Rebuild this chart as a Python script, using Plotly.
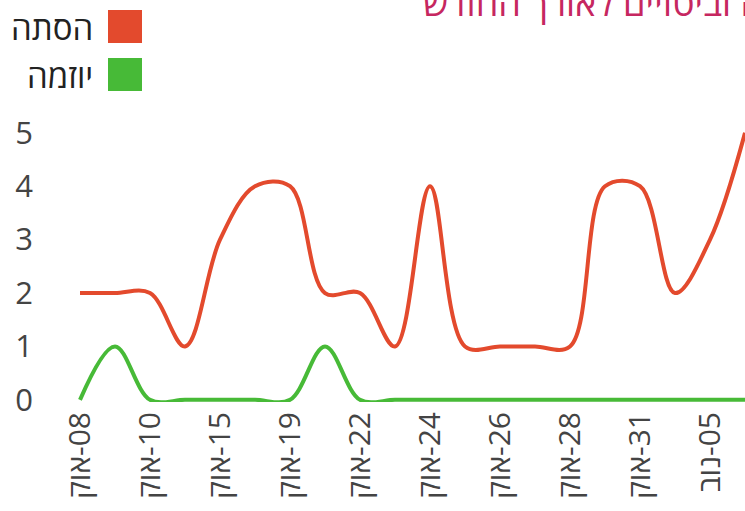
import plotly.graph_objects as go

# ---- data ----
categories = ["08-אוק", "09-אוק", "10-אוק", "12-אוק", "15-אוק", "17-אוק", "19-אוק",
              "21-אוק", "22-אוק", "23-אוק", "24-אוק", "25-אוק", "26-אוק", "27-אוק",
              "28-אוק", "29-אוק", "31-אוק", "02-נוב", "05-נוב", "07-נוב"]
incitement = [2, 2, 2, 1, 3, 4, 4, 2, 2, 1, 4, 1, 1, 1, 1, 4, 4, 2, 3, 5]
initiative = [0, 1, 0, 0, 0, 0, 0, 1, 0, 0, 0, 0, 0, 0, 0, 0, 0, 0, 0, 0]
series_names = ["הסתה", "יוזמה"]
series_colors = ["#E34A2D", "#47BA37"]
title_text = "התפלגות הסתה וביטויים לאורך החודש"
y_ticks = [0, 1, 2, 3, 4, 5]

W, H = 745, 511
ML, MR, MT, MB = 40, 0, 120, 109
FONT = "Open Sans, DejaVu Sans, sans-serif"

fig = go.Figure()
for name, vals, col in zip(series_names, [incitement, initiative], series_colors):
    fig.add_trace(go.Scatter(
        x=list(range(len(categories))), y=vals, name=name, mode="lines",
        line=dict(color=col, width=4, shape="spline", smoothing=1),
        showlegend=False, hoverinfo="skip"))

# pixel -> paper helpers (for legend/title placement only)
pw = W - ML - MR
ph = H - MT - MB
def px_x(p):
    return (p - ML) / pw
def px_y(p):
    return (H - MB - p) / ph

shapes = []
annotations = []
legend_rows = [(10, 43), (58, 91)]
for (y0, y1), name, col in zip(legend_rows, series_names, series_colors):
    shapes.append(dict(type="rect", xref="paper", yref="paper",
                       x0=px_x(108), x1=px_x(142), y0=px_y(y1), y1=px_y(y0),
                       fillcolor=col, line=dict(width=0)))
    annotations.append(dict(text=name, xref="paper", yref="paper",
                            x=px_x(95), y=px_y((y0 + y1) / 2 + 1),
                            xanchor="right", yanchor="middle", showarrow=False,
                            font=dict(size=33, color="#222", family=FONT)))

tickvals = list(range(0, len(categories), 2))
ticktext = ["\u200F" + categories[i] for i in tickvals]

fig.update_layout(
    width=W, height=H,
    margin=dict(l=ML, r=MR, t=MT, b=MB, pad=0),
    paper_bgcolor="white", plot_bgcolor="white",
    font=dict(family=FONT, size=30, color="#444"),
    title=dict(text=title_text, x=423 / W, xanchor="left", xref="container",
               y=1 - 16 / H, yanchor="bottom", yref="container",
               font=dict(size=36, color="#C62760", family=FONT)),
    xaxis=dict(range=[-40 / 35, len(categories) - 1], tickmode="array",
               tickvals=tickvals, ticktext=ticktext, tickangle=-90,
               showgrid=False, zeroline=False, showline=False, ticks="",
               automargin=False, ticklabelstandoff=3,
               tickfont=dict(size=30, color="#444")),
    yaxis=dict(range=[-0.04, 5.24], tickvals=y_ticks, showgrid=False,
               zeroline=False, showline=False, ticks="", automargin=False,
               ticklabelstandoff=6,
               tickfont=dict(size=31, color="#444")),
    shapes=shapes, annotations=annotations,
)

fig.write_html("out.html", config={"displayModeBar": False},
               post_script="document.body.style.margin='0';document.body.style.overflow='hidden';")
